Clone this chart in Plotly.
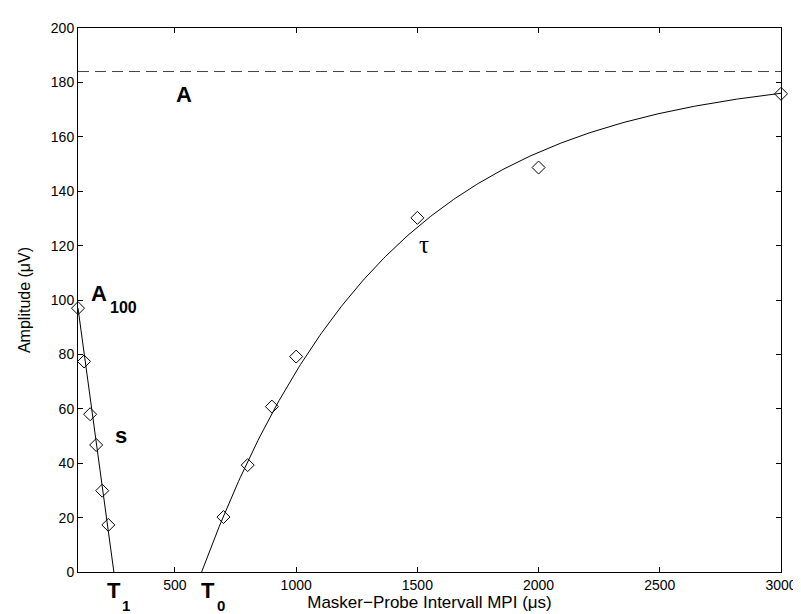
import numpy as np
import plotly.graph_objects as go

# ---- data ----
mpi_short = [100, 125, 150, 175, 200, 225]          # µs
amp_short = [97.0, 77.4, 58.0, 46.7, 29.9, 17.3]    # µV

mpi_long = [700, 800, 900, 1000, 1500, 2000, 3000]  # µs
amp_long = [20.2, 39.3, 60.8, 79.2, 130.2, 148.7, 175.8]  # µV

# fitted model parameters
A_sat = 184.0      # saturation amplitude A
A100 = 97.0        # amplitude at 100 µs
T1 = 248.0         # zero crossing of linear fit
T0 = 610.0         # onset of recovery
tau = 762.0        # recovery time constant

x_ticks = [500, 1000, 1500, 2000, 2500, 3000]
y_ticks = list(range(0, 201, 20))

# ---- fitted curves ----
lin_x = [100, T1]
lin_y = [A100, 0]
exp_x = np.linspace(T0, 3000, 300)
exp_y = A_sat * (1 - np.exp(-(exp_x - T0) / tau))

fig = go.Figure()
fig.add_trace(go.Scatter(x=[100, 3000], y=[A_sat, A_sat], mode="lines",
                         line=dict(color="#444", width=1, dash="11px,6px"),
                         hoverinfo="skip"))
fig.add_trace(go.Scatter(x=lin_x, y=lin_y, mode="lines",
                         line=dict(color="black", width=1)))
fig.add_trace(go.Scatter(x=exp_x, y=exp_y, mode="lines",
                         line=dict(color="black", width=1)))
for xs, ys in ((mpi_short, amp_short), (mpi_long, amp_long)):
    fig.add_trace(go.Scatter(x=xs, y=ys, mode="markers", cliponaxis=False,
                             marker=dict(symbol="diamond-open", size=10, color="black",
                                         line=dict(width=1, color="black"))))

L, R, T, B = 70, 775, 13, 564
W, H = 801, 614


def px2paper(px, py):
    return (px - L) / (R - L), (B - py) / (B - T)


FONT = "Liberation Sans, Arial, sans-serif"
labels = [
    ("<b>A</b>", 176, 80, 22, FONT),
    ("<b>A</b>", 91, 282, 22, FONT),
    ("<b>100</b>", 116, 296, 16, FONT),
    ("<b>s</b>", 113, 426, 22, FONT),
    ("<b>T</b>", 106.5, 583, 22, FONT),
    ("<b>1</b>", 118.5, 598, 15, FONT),
    ("<b>T</b>", 200.5, 583, 22, FONT),
    ("<b>0</b>", 213, 598, 15, FONT),
    ("τ", 417, 232, 25, "Liberation Serif, serif"),
]
annotations = []
for text, px, py, size, fam in labels:
    x, y = px2paper(px, py)
    annotations.append(dict(x=x, y=y, xref="paper", yref="paper", text=text, showarrow=False,
                            xanchor="center", yanchor="middle", borderpad=0,
                            font=dict(size=size, family=fam, color="black")))

axis_common = dict(showgrid=False, zeroline=False, showline=True, linecolor="black",
                   linewidth=1, mirror="ticks", ticks="inside", ticklen=5,
                   tickcolor="black", tickfont=dict(size=14, family=FONT, color="black"))

fig.update_layout(
    width=W, height=H,
    margin=dict(l=L, r=W - R, t=T, b=H - B),
    paper_bgcolor="white", plot_bgcolor="white",
    showlegend=False,
    annotations=annotations,
    xaxis=dict(range=[100, 3000], tickvals=x_ticks,
               title=dict(text="Masker−Probe Intervall MPI (μs)", standoff=4,
                          font=dict(size=17, family=FONT, color="black")),
               **axis_common),
    yaxis=dict(range=[0, 200], tickvals=y_ticks,
               title=dict(text="Amplitude (μV)", standoff=16,
                          font=dict(size=16, family=FONT, color="black")),
               **axis_common),
)

fig.write_html("out.html")
